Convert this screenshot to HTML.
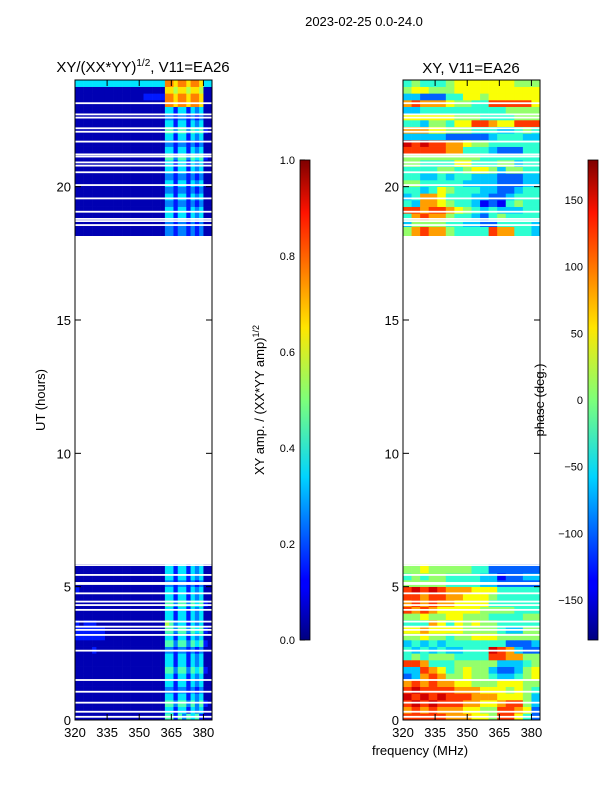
<!DOCTYPE html>
<html><head><meta charset="utf-8"><style>
body{margin:0;background:#fff;}
svg text{font-family:"Liberation Sans",sans-serif;fill:#000;}
</style></head><body>
<svg id="fig" width="600" height="800" viewBox="0 0 600 800" xmlns="http://www.w3.org/2000/svg">
<defs>
<linearGradient id="jet" x1="0" y1="1" x2="0" y2="0">
<stop offset="0" stop-color="#00007f"/><stop offset="0.11" stop-color="#0000ff"/><stop offset="0.125" stop-color="#0000ff"/>
<stop offset="0.34" stop-color="#00d4ff"/><stop offset="0.5" stop-color="#7dff7a"/><stop offset="0.65" stop-color="#ffe600"/>
<stop offset="0.89" stop-color="#ff1300"/><stop offset="1" stop-color="#7f0000"/>
</linearGradient>
<clipPath id="cl"><rect x="75" y="80" width="137" height="640"/></clipPath>
<clipPath id="cr"><rect x="403" y="80" width="137" height="640"/></clipPath>
</defs>
<text x="364" y="26" font-size="13" text-anchor="middle">2023-02-25 0.0-24.0</text>
<text x="143" y="72" font-size="15" text-anchor="middle">XY/(XX*YY)<tspan font-size="10" dy="-6">1/2</tspan><tspan dy="6">, V11=EA26</tspan></text>
<text x="471" y="73" font-size="15" text-anchor="middle">XY, V11=EA26</text>
<g id="gl" clip-path="url(#cl)"></g>
<g id="gr" clip-path="url(#cr)"></g>
<g id="axes"></g>
<text transform="translate(45,400) rotate(-90)" font-size="13" text-anchor="middle">UT (hours)</text>
<text x="420" y="755" font-size="13" text-anchor="middle">frequency (MHz)</text>
<rect x="300" y="160" width="10" height="480" fill="url(#jet)" stroke="#000" stroke-width="0.8"/>
<rect x="588" y="160" width="10" height="480" fill="url(#jet)" stroke="#000" stroke-width="0.8"/>
<text transform="translate(264,400) rotate(-90)" font-size="13" text-anchor="middle">XY amp. / (XX*YY amp)<tspan font-size="9" dy="-5">1/2</tspan></text>
<text transform="translate(544,400) rotate(-90)" font-size="13" text-anchor="middle">phase (deg.)</text>
</svg>
<script>
const hours=[0,0.25,0.5,0.75,1,1.25,1.5,1.75,2,2.25,2.5,2.75,3,3.25,3.5,3.75,4,4.25,4.5,4.75,5,5.25,5.5,5.75,
18,18.25,18.5,18.75,19,19.25,19.5,19.75,20,20.25,20.5,20.75,21,21.25,21.5,21.75,22,22.25,22.5,22.75,23,23.25,23.5,23.75];
const ampRows=[
"11111111111111111111155253545211","11111111111111111111144244243411","11111111111111111111155355353521","11111111111111111111144244243411",
"11111111111111111111133233232311","11111111111111111111144244243411","11111111111111111111144244243411","11111111111111111111155355354521",
"11111111111111111111144244243411","11111111111111111111144244243411","11112111111111111111133233232311","11111111111111111111155355354521",
"22222221111111111111144244243411","22222221111111111111155355354521","21222111111111111111165344243411","11111111111111111111144244243411",
"11111111111111111111144244243411","11111111111111111111155355354521","11111111111111111111144244243411","21111111111111111111144244243411",
"11111111111111111111133233232311","11111111111111111111144244243411","11111111111111111111144244243411","11111111111111111111144244243411",
"11111111111111111111133233232311","11111111111111111111133233232311","11111111111111111111133233232311","11111111111111111111144244243411",
"11111111111111111111144244243411","11111111111111111111133233232311","11111111111111111111144244243411","11111111111111111111133233232311",
"11111111111111111111144244243411","11111111111111111111133233232311","11111111111111111111144244243411","11111111111111111111144244243411",
"11111111111111111111155355354521","11111111111111111111144244243411","11111111111111111111133233232311","11111111111111111111144244243411",
"11111111111111111111155355354521","11111111111111111111144244243411","11111111111111111111133233232311","11111111111111111111144244243411",
"11111111111111111111188788788711","11111111111111112222288788788711","11111111111111111111177677677611","44444444444444444444488788788744"];
const phaseRows=[
"8888877766588642","7878777665588762","8989888776678853","9898988877766653","8988887776665654","7878776655566655",
"2378755655433456","3387645655322356","8874445555533345","4545554444887755","4343433444987322","3434344444442223",
"5565545566655555","6676666555543355","4447646565544444","5565566555444455","8787666665555444","7878776666444444",
"8878877666544444","8989877766644444","5555544443322222","4545544443312233","5565555544222222","5565555544222222",
"5787754444877443","5787754444877443","3555544332244443","4787754432454444","8878876543433344","4377654431214544",
"3477644433223444","4434654443322344","5544444333322233","4433434433322233","4444554566535544","5544446644455344",
"5555555554444444","8888877444322244","9898877655444444","3333322222344433","7776655544433454","4435546688766888",
"6666665554444555","3344444444445555","7877765544888886","3322244665666666","5665556666666666","4544456666666555"];
const flagHours=[0.12,0.31,0.65,1.06,1.5,2.6,3.19,3.38,3.5,3.69,4.13,4.31,4.44,4.75,5.1,5.14,5.44,5.81,
18.56,18.71,18.79,19.06,19.56,20.06,20.54,20.79,20.91,21.13,21.21,21.69,22.06,22.19,22.59,22.71,23.13];
const gaps=[[5.85,18.15]];
const xTicks=[320,335,350,365,380];
const yTicks=[0,5,10,15,20];
const ampTicks=[0,0.2,0.4,0.6,0.8,1.0];
const phaseTicks=[-150,-100,-50,0,50,100,150];

const NS="http://www.w3.org/2000/svg";
const Y0=720,Y1=80,T0=0,T1=24;
const yS=h=>Y0-(h-T0)/(T1-T0)*(Y0-Y1);
const xS=(f,x0)=>x0+(f-320)/64*137;
function jet(v){v=Math.max(0,Math.min(1,v));
 const r=Math.max(0,Math.min(1,Math.min(4*v-1.5,-4*v+4.5)));
 const g=Math.max(0,Math.min(1,Math.min(4*v-0.5,-4*v+3.5)));
 const b=Math.max(0,Math.min(1,Math.min(4*v+0.5,-4*v+2.5)));
 return `rgb(${Math.round(r*255)},${Math.round(g*255)},${Math.round(b*255)})`;}
function mk(tag,attrs,parent){const e=document.createElementNS(NS,tag);for(const k in attrs)e.setAttribute(k,attrs[k]);parent.appendChild(e);return e;}
const gl=document.getElementById('gl'),gr=document.getElementById('gr'),ax=document.getElementById('axes');
function drawHeat(g,rows,x0,nc,scale){
 rows.forEach((s,i)=>{const h=hours[i];const w=64/nc;
  for(let c=0;c<nc;c++){const v=scale(+s[c]);
   const r=mk('rect',{x:xS(320+c*w,x0),y:yS(h+0.25),width:137/nc+0.3,height:(yS(h)-yS(h+0.25))+0.3,fill:jet(v)},g);
   
   }});
 flagHours.forEach(h=>{const r=mk('rect',{x:x0,y:yS(h)-0.9,width:137,height:1.8,fill:'#fff'},g);
   
   });
 gaps.forEach(gp=>{const r=mk('rect',{x:x0,y:yS(gp[1]),width:137,height:yS(gp[0])-yS(gp[1]),fill:'#fff'},g);
   
   });
}
drawHeat(gl,ampRows,75,32,d=>(d-0.5)/10);
drawHeat(gr,phaseRows,403,16,d=>d/10+0.02);
[75,403].forEach((x0,pi)=>{
 const fr=mk('rect',{x:x0,y:80,width:137,height:640,fill:'none',stroke:'#000','stroke-width':1},ax);
 
 
 xTicks.forEach(t=>{const x=xS(t,x0);
  mk('line',{x1:x,x2:x,y1:720,y2:714,stroke:'#000'},ax);mk('line',{x1:x,x2:x,y1:80,y2:86,stroke:'#000'},ax);
  const tx=mk('text',{x:x,y:737,'font-size':13,'text-anchor':'middle'},ax);tx.textContent=t;
  
  });
 yTicks.forEach(t=>{const y=yS(t);
  mk('line',{x1:x0,x2:x0+6,y1:y,y2:y,stroke:'#000'},ax);mk('line',{x1:x0+131,x2:x0+137,y1:y,y2:y,stroke:'#000'},ax);
  const tx=mk('text',{x:x0-4,y:y+5,'font-size':13,'text-anchor':'end'},ax);tx.textContent=t;
  
  });
});
ampTicks.forEach(t=>{const y=640-t*480;
 mk('line',{x1:300,x2:305,y1:y,y2:y,stroke:'#000'},ax);
 const tx=mk('text',{x:295,y:y+4,'font-size':11,'text-anchor':'end'},ax);tx.textContent=t.toFixed(1);
 
 });
phaseTicks.forEach(t=>{const y=400-t*480/360;
 mk('line',{x1:588,x2:593,y1:y,y2:y,stroke:'#000'},ax);
 const tx=mk('text',{x:583,y:y+4,'font-size':11,'text-anchor':'end'},ax);tx.textContent=t<0?'\u2212'+(-t):t;
 
 });
</script>
</body></html>
